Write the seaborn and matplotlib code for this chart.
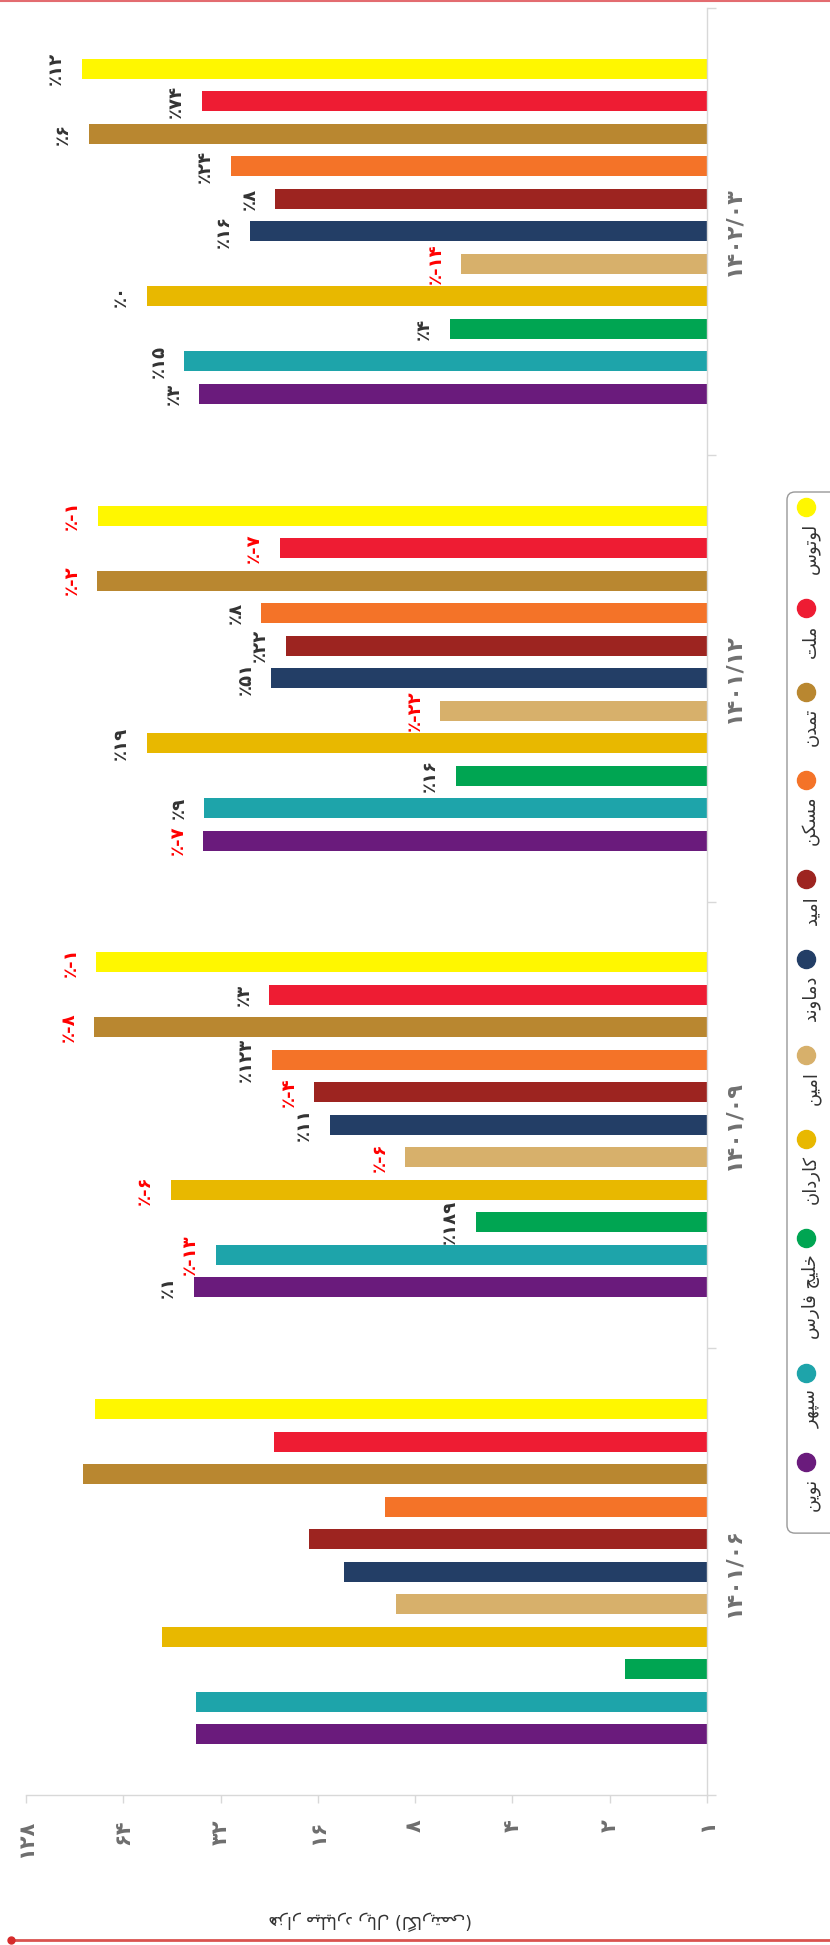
import numpy as np
import pandas as pd
import matplotlib
matplotlib.use('Agg')
import matplotlib.pyplot as plt
import seaborn as sns
from matplotlib.lines import Line2D
from matplotlib.patches import FancyBboxPatch
from matplotlib.transforms import IdentityTransform

# --- data ---
periods = ['۱۴۰۱/۰۶', '۱۴۰۱/۰۹', '۱۴۰۱/۱۲', '۱۴۰۲/۰۳']
funds = ['نوین', 'سپهر', 'خلیج فارس', 'کاردان', 'امین', 'دماوند', 'امید', 'مسکن', 'تمدن', 'ملت', 'لوتوس']
fund_colors = ['#6a1b7c', '#1ea4aa', '#00a552', '#e8b800', '#d7b06b', '#233e66',
               '#9d2420', '#f47328', '#b98730', '#ee1c33', '#fff700']

val_1401_06 = [38.0, 38.0, 1.8, 48.5, 9.2, 13.3, 17.1, 9.9, 85.0, 21.9, 78.5]
val_1401_09 = [38.8, 33.1, 5.2, 45.6, 8.6, 14.7, 16.4, 22.2, 78.6, 22.6, 77.7]
val_1401_12 = [36.2, 36.0, 6.0, 54.1, 6.7, 22.3, 20.1, 24.0, 77.2, 21.0, 76.9]
val_1402_03 = [37.2, 41.4, 6.25, 54.2, 5.75, 26.0, 21.7, 29.8, 81.8, 36.6, 86.0]

# percent change labels (none on the first period)
chg_1401_09 = [1, -13, 189, -6, -6, 11, -4, 123, -8, 3, -1]
chg_1401_12 = [-7, 9, 16, 19, -22, 51, 22, 8, -2, -7, -1]
chg_1402_03 = [3, 15, 4, 0, -14, 16, 8, 24, 6, 74, 12]

value_ticks = [1, 2, 4, 8, 16, 32, 64, 128]
axis_title = 'هزار میلیارد ریال (لگاریتمی)'

# --- minimal Persian shaping (matplotlib has no complex text layout) ---
FORMS = {
    'ا': ('\uFE8D', '\uFE8E', '\uFE8D', '\uFE8E'),
    'پ': ('\uFB56', '\uFB57', '\uFB58', '\uFB59'),
    'ت': ('\uFE95', '\uFE96', '\uFE97', '\uFE98'),
    'ج': ('\uFE9D', '\uFE9E', '\uFE9F', '\uFEA0'),
    'خ': ('\uFEA5', '\uFEA6', '\uFEA7', '\uFEA8'),
    'د': ('\uFEA9', '\uFEAA', '\uFEA9', '\uFEAA'),
    'ر': ('\uFEAD', '\uFEAE', '\uFEAD', '\uFEAE'),
    'ز': ('\uFEAF', '\uFEB0', '\uFEAF', '\uFEB0'),
    'س': ('\uFEB1', '\uFEB2', '\uFEB3', '\uFEB4'),
    'ف': ('\uFED1', '\uFED2', '\uFED3', '\uFED4'),
    'ک': ('\uFB8E', '\uFB8F', '\uFB90', '\uFB91'),
    'گ': ('\uFB92', '\uFB93', '\uFB94', '\uFB95'),
    'ل': ('\uFEDD', '\uFEDE', '\uFEDF', '\uFEE0'),
    'م': ('\uFEE1', '\uFEE2', '\uFEE3', '\uFEE4'),
    'ن': ('\uFEE5', '\uFEE6', '\uFEE7', '\uFEE8'),
    'ه': ('\uFEE9', '\uFEEA', '\uFEEB', '\uFEEC'),
    'و': ('\uFEED', '\uFEEE', '\uFEED', '\uFEEE'),
    'ی': ('\uFBFC', '\uFBFD', '\uFBFE', '\uFBFF'),
}
RIGHT_ONLY = set('ادرزو')


def shape(s):
    out = []
    for i, c in enumerate(s):
        if c not in FORMS:
            out.append(c)
            continue
        prev = s[i - 1] if i > 0 else None
        nxt = s[i + 1] if i + 1 < len(s) else None
        jp = prev in FORMS and prev not in RIGHT_ONLY
        jn = nxt in FORMS and c not in RIGHT_ONLY
        iso, fin, ini, med = FORMS[c]
        out.append(med if (jp and jn) else fin if jp else ini if jn else iso)
    vis = ''.join(reversed(out))
    return vis.translate(str.maketrans('()', ')('))


FA = str.maketrans('0123456789', '۰۱۲۳۴۵۶۷۸۹')


def fa(n):
    return str(n).translate(FA)


def pct_label(p):
    return '٪' + ('-' if p < 0 else '') + fa(abs(p))


# --- table ---
rows = []
for per, vals in zip(periods, [val_1401_06, val_1401_09, val_1401_12, val_1402_03]):
    for f, v in zip(funds, vals):
        rows.append({'period': per, 'fund': f, 'value': v})
df = pd.DataFrame(rows)

changes = {}
for per, chg in zip(periods[1:], [chg_1401_09, chg_1401_12, chg_1402_03]):
    for f, p in zip(funds, chg):
        changes[(per, f)] = p

W, H = 830, 1945
sns.set_style('white')
plt.rcParams['font.family'] = ['DejaVu Sans']

fig = plt.figure(figsize=(W / 100, H / 100), dpi=100)
ax = fig.add_axes([26 / W, 1 - 1795 / H, (707 - 26) / W, (1795 - 8) / H])

order = periods[::-1]          # latest period on top
hue_order = funds[::-1]        # لوتوس at the top of each group
palette = dict(zip(funds, fund_colors))

sns.barplot(data=df, x='value', y='period', hue='fund', order=order, hue_order=hue_order,
            palette=palette, width=0.8, gap=0.385, saturation=1, errorbar=None,
            legend=False, orient='y', linewidth=0, ax=ax)

ax.set_xscale('log', base=2)
ax.set_xlim(128, 1)
ax.set_ylim(3.5, -0.5)
ax.set_xticks(value_ticks)
ax.xaxis.set_minor_locator(matplotlib.ticker.NullLocator())
ax.set_xticklabels([fa(t) for t in value_ticks], rotation=90, fontsize=15,
                   fontweight='bold', color='#6e6e6e')
ax.tick_params(axis='x', length=5.8, width=1, color='#d8d8d8', pad=12, bottom=True)

ax.yaxis.tick_right()
ax.set_yticks(range(len(order)))
ax.set_yticklabels(order, rotation=90, va='center', fontsize=16, fontweight='bold', color='#707070')
ax.set_yticks(np.arange(-0.5, len(order), 1.0), minor=True)
ax.tick_params(axis='y', which='major', length=0, pad=12)
ax.tick_params(axis='y', which='minor', length=6.5, width=1, color='#d8d8d8', right=True, left=False)
ax.set_xlabel('')
ax.set_ylabel('')
for side in ['top', 'left']:
    ax.spines[side].set_visible(False)
for side in ['right', 'bottom']:
    ax.spines[side].set_color('#d8d8d8')
    ax.spines[side].set_linewidth(1)

# percent change labels next to the bars
for cont, f in zip(ax.containers, hue_order):
    for bar in cont:
        yc = bar.get_y() + bar.get_height() / 2
        per = order[int(round(yc))]
        if (per, f) not in changes:
            continue
        p = changes[(per, f)]
        ax.annotate(pct_label(p), xy=(bar.get_width(), yc), xytext=(-12, 0),
                    textcoords='offset points', rotation=90, ha='right', va='center',
                    fontsize=13, fontweight='bold',
                    color='#ff0000' if p < 0 else '#333333')

# axis title (drawn upside down as in the source image)
fig.text(370 / W, 1 - 1921 / H, shape(axis_title), rotation=180, ha='center', va='center',
         fontsize=12.5, color='#333333')

# vertical legend on the right
renderer = fig.canvas.get_renderer()
y = 507
last_end = y
for f in hue_order:
    fig.add_artist(Line2D([806 / W], [1 - y / H], marker='o', markersize=13, linestyle='none',
                          color=palette[f], transform=fig.transFigure, zorder=5))
    t = fig.text(811 / W, 1 - (y + 16) / H, shape(f), rotation=90, ha='center', va='top',
                 fontsize=13, color='#333333', zorder=5)
    bb = t.get_window_extent(renderer)
    last_end = H - bb.y0
    y = last_end + 34
box = FancyBboxPatch((787, H - (last_end + 22)), 60, (last_end + 22) - 492,
                     boxstyle='round,pad=0,rounding_size=8', transform=IdentityTransform(),
                     facecolor='white', edgecolor='#999999', linewidth=1, zorder=1)
fig.add_artist(box)

# thin red frame lines of the source page
fig.add_artist(Line2D([0, 1], [1 - 0.8 / H] * 2, color='#e36c70', lw=1.5, transform=fig.transFigure))
fig.add_artist(Line2D([11 / W, 1], [1 - 1940 / H] * 2, color='#d9534f', lw=2, transform=fig.transFigure))
fig.add_artist(Line2D([11 / W], [1 - 1940 / H], marker='o', markersize=5, color='#d62b2b',
                      transform=fig.transFigure))

fig.savefig('out.png', dpi=100)
